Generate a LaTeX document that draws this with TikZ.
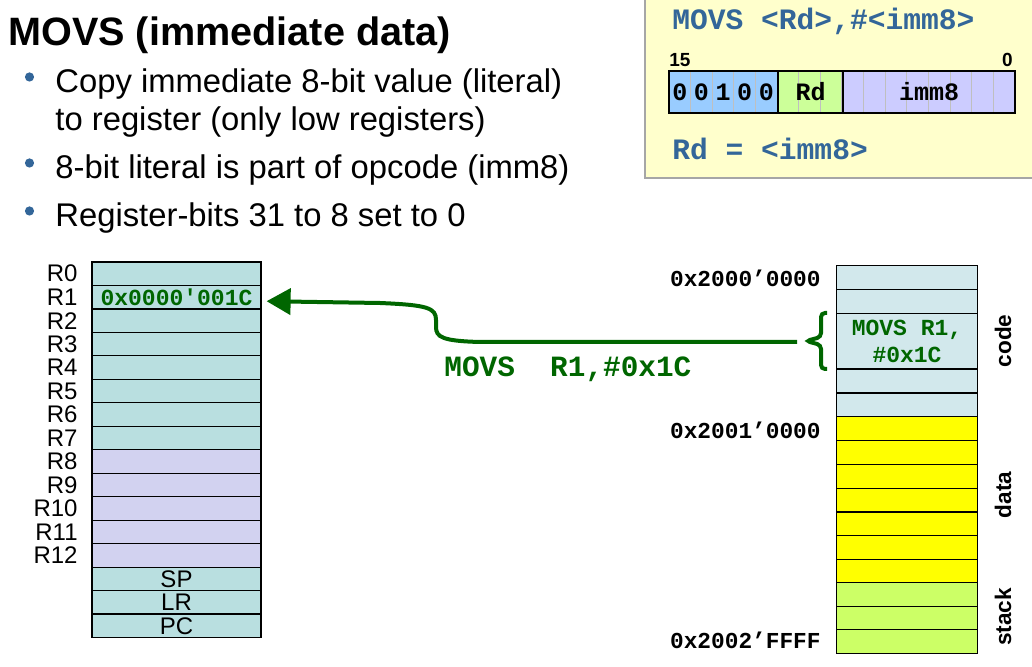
\documentclass[tikz,border=0pt]{standalone}
\usepackage{fontspec}
\setmainfont{Liberation Sans}
\setmonofont{Liberation Mono}
\usetikzlibrary{arrows.meta,positioning}
\definecolor{regteal}{HTML}{B9DFE0}
\definecolor{reglav}{HTML}{D2D2F0}
\definecolor{codecell}{HTML}{D2E8EC}
\definecolor{datacell}{HTML}{FFFF00}
\definecolor{stackcell}{HTML}{CCFF66}
\definecolor{boxyellow}{HTML}{FFFFCC}
\definecolor{instrblue}{HTML}{336699}
\definecolor{movgreen}{HTML}{006600}
\definecolor{bulletblue}{HTML}{336699}
\definecolor{opblue}{HTML}{99CCFF}
\definecolor{opgreen}{HTML}{CCFF99}
\definecolor{oplav}{HTML}{CCCCFF}
\tikzset{
  regcell/.style={draw, line width=0.6pt, minimum width=84.5pt, minimum height=11.73pt, inner sep=0pt, font=\fontsize{12}{12}\selectfont},
  reglabel/.style={anchor=east, inner sep=0pt, font=\fontsize{12}{12}\selectfont},
  memcell/.style={draw, line width=0.6pt, minimum width=70.5pt, inner sep=0pt},
  addr/.style={anchor=base east, inner sep=0pt, font=\ttfamily\bfseries\fontsize{11.4}{12}\selectfont},
  side/.style={rotate=90, inner sep=0pt, font=\bfseries\fontsize{11.3}{12}\selectfont},
  bullettext/.style={anchor=base west, inner sep=0pt, font=\fontsize{16.4}{18}\selectfont},
  instr/.style={anchor=base west, inner sep=0pt, text=instrblue, font=\ttfamily\bfseries\fontsize{14.8}{16}\selectfont},
  opbits/.style={inner sep=0pt, font=\ttfamily\bfseries\fontsize{12.5}{13}\selectfont},
  greencode/.style={inner sep=0pt, text=movgreen, font=\ttfamily\bfseries\fontsize{11.5}{13.5}\selectfont},
  flow/.style={movgreen, line width=2pt, -{Triangle[length=12pt,width=13pt]}},
}
\begin{document}
\begin{tikzpicture}[x=0.5pt,y=-0.5pt]
\useasboundingbox (0,0) rectangle (1032,667);
% title and bullets
\node[anchor=base west, inner sep=0pt, font=\bfseries\fontsize{19.8}{22}\selectfont] (title) at (8,46) {MOVS (immediate data)};
\fill[bulletblue] (29.5,77) circle (2.3pt);
\fill[bulletblue] (29.5,163) circle (2.3pt);
\fill[bulletblue] (29.5,211) circle (2.3pt);
\node[bullettext] (b1) at (55,93) {Copy immediate 8-bit value (literal)};
\node[bullettext] (b1b) at (55,131) {to register (only low registers)};
\node[bullettext] (b2) at (55,179) {8-bit literal is part of opcode (imm8)};
\node[bullettext] (b3) at (55,227) {Register-bits 31 to 8 set to 0};
% encoding box
\draw[fill=boxyellow, draw=gray!70, line width=1pt] (645,-10) rectangle (1045,178);
\node[instr] (syntax) at (672,30) {MOVS <Rd>,\#<imm8>};
\foreach \k in {0,...,15}{
  \ifnum\k<5 \def\c{opblue}\else\ifnum\k<8 \def\c{opgreen}\else\def\c{oplav}\fi\fi
  \draw[fill=\c, draw=gray!50, line width=0.6pt] ({669+\k*21.625},71) rectangle ({669+(\k+1)*21.625},113);
}
\draw[line width=1.2pt] (669,71) rectangle (778,113);
\draw[line width=1.2pt] (778,71) rectangle (843,113);
\draw[line width=1.2pt] (843,71) rectangle (1015,113);
\foreach \v [count=\k from 0] in {0,0,1,0,0}
  \node[opbits] (bit\k) at ({669+(\k+0.5)*21.625},92) {\v};
\node[opbits] (rdfield) at (810.5,92) {Rd};
\node[opbits] (immfield) at (929,92) {imm8};
\node[anchor=base west, inner sep=0pt, font=\bfseries\fontsize{9.5}{10}\selectfont] (msb) at (669,67) {15};
\node[anchor=base east, inner sep=0pt, font=\bfseries\fontsize{9.5}{10}\selectfont] (lsb) at (1013,67) {0};
\node[instr] (semantic) at (672,160) {Rd = <imm8>};
% registers
\foreach \i in {0,...,15}{
  \ifnum\i>7 \ifnum\i<13 \def\c{reglav}\else\def\c{regteal}\fi \else\def\c{regteal}\fi
  \node[regcell, fill=\c] (r\i) at (176.5,{262+(\i+0.5)*23.47}) {};
}
\foreach \i in {0,...,12}
  \node[reglabel] (l\i) at (78,{262+(\i+0.5)*23.47}) {R\i};
\node[inner sep=0pt, font=\fontsize{12}{12}\selectfont] (sp) at (r13) {SP};
\node[inner sep=0pt, font=\fontsize{12}{12}\selectfont] (lr) at (r14) {LR};
\node[inner sep=0pt, font=\fontsize{12}{12}\selectfont] (pc) at (r15) {PC};
\node[greencode] (r1val) at (r1) {0x0000'001C};
% memory
\foreach \t/\b/\c [count=\i] in {265.5/289.5/codecell, 289.5/313.5/codecell, 313.5/369/codecell, 369/393/codecell, 393/416.7/codecell,
  416.7/440.5/datacell, 440.5/464.3/datacell, 464.3/488.1/datacell, 488.1/511.9/datacell, 511.9/535.6/datacell, 535.6/559.3/datacell, 559.3/582.7/datacell,
  582.7/606.2/stackcell, 606.2/629.8/stackcell, 629.8/653.3/stackcell}{
  \pgfmathsetmacro\hh{(\b-\t)/2}
  \node[memcell, fill=\c, minimum height=\hh pt] (m\i) at (907,{(\t+\b)/2}) {};
}
\node[greencode, align=center] (movcell) at (m3) {MOVS R1,\\\#0x1C};
\node[addr] (a0) at (821,287) {0x2000’0000};
\node[addr] (a1) at (821,438) {0x2001’0000};
\node[addr] (a2) at (821,648) {0x2002’FFFF};
\node[side] (code) at (1003,341) {code};
\node[side] (data) at (1003,495) {data};
\node[side] (stack) at (1003,617) {stack};
% instruction flow
\draw[movgreen, line width=2pt, rounded corners=2pt] (827,313) -- (821,313) -- (821,337) -- (806,341) -- (821,345) -- (821,369) -- (827,369);
\coordinate (bracetip) at (797,342);
\draw[flow] (bracetip) -- (480,342) .. controls (442,341) and (436,337) .. (436,327) -- (436,320) .. controls (436,308) and (428,305) .. (380,303) -- ([shift={(5,4)}]r1.east);
\node[anchor=base west, inner sep=0pt, text=movgreen, font=\ttfamily\bfseries\fontsize{14.7}{16}\selectfont] (movlabel) at (444,377) {MOVS\ \ R1,\#0x1C};
\end{tikzpicture}
\end{document}
